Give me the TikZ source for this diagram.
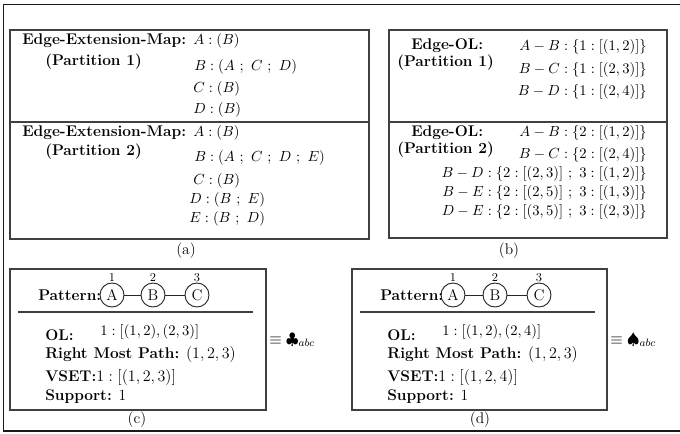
\documentclass[tikz,border=0pt]{standalone}
\begin{document}
\begin{tikzpicture}[x=0.75pt,y=-0.75pt,
  every node/.style={font=\fontsize{11.6}{14}\selectfont, inner sep=0pt},
  txt/.style={anchor=west},
  rtxt/.style={anchor=east},
  mth/.style={font=\fontsize{11.2}{13.5}\selectfont},
  boxline/.style={draw=black!75, line width=0.9pt},
  outerframe/.style={draw=black!90, line width=0.9pt},
  vtx/.style={circle, draw=black!85, line width=0.7pt, minimum size=18pt, inner sep=0pt},
  num/.style={font=\fontsize{9}{10}\selectfont, inner sep=0.3pt},
  link/.style={draw=black!85, line width=0.7pt},
  captxt/.style={anchor=center}
]
\useasboundingbox (0,0) rectangle (680,433);
% outer frame
\draw[outerframe] (680,4.5) -- (3.5,4.5) -- (3.5,431) -- (680,431);

% ---------- (a) ----------
\draw[boxline] (10,30) rectangle (369,239);
\draw[boxline] (10,122) -- (369,122);
\node[txt] (a1h) at (22,41) {\textbf{Edge-Extension-Map:}};
\node[txt] (a1p) at (45,62) {\textbf{(Partition 1)}};
\node[txt,mth] (a1A) at (193,41) {$A:(B)$};
\node[txt,mth] (a1B) at (194,67) {$B:(A\ ;\ C\ ;\ D)$};
\node[txt,mth] (a1C) at (193,89) {$C:(B)$};
\node[txt,mth] (a1D) at (193,110) {$D:(B)$};
\node[txt] (a2h) at (22,133) {\textbf{Edge-Extension-Map:}};
\node[txt] (a2p) at (45,152) {\textbf{(Partition 2)}};
\node[txt,mth] (a2A) at (193,133) {$A:(B)$};
\node[txt,mth] (a2B) at (194,158) {$B:(A\ ;\ C\ ;\ D\ ;\ E)$};
\node[txt,mth] (a2C) at (193,181) {$C:(B)$};
\node[txt,mth] (a2D) at (189,200) {$D:(B\ ;\ E)$};
\node[txt,mth] (a2E) at (189,219) {$E:(B\ ;\ D)$};
\node[captxt] (capa) at (186,251) {(a)};

% ---------- (b) ----------
\draw[boxline] (389,30) rectangle (667,238);
\draw[boxline] (389,122) -- (667,122);
\node[txt] (b1h) at (411,46) {\textbf{Edge-OL:}};
\node[txt] (b1p) at (397,63) {\textbf{(Partition 1)}};
\node[rtxt,mth] (b1AB) at (647,47) {$A-B:\{1:[(1,2)]\}$};
\node[rtxt,mth] (b1BC) at (647,70) {$B-C:\{1:[(2,3)]\}$};
\node[rtxt,mth] (b1BD) at (647,92) {$B-D:\{1:[(2,4)]\}$};
\node[txt] (b2h) at (411,133) {\textbf{Edge-OL:}};
\node[txt] (b2p) at (397,150) {\textbf{(Partition 2)}};
\node[rtxt,mth] (b2AB) at (647,133) {$A-B:\{2:[(1,2)]\}$};
\node[rtxt,mth] (b2BC) at (647,155) {$B-C:\{2:[(2,4)]\}$};
\node[rtxt,mth] (b2BD) at (647,174) {$B-D:\{2:[(2,3)]\ ;\ 3:[(1,2)]\}$};
\node[rtxt,mth] (b2BE) at (647,193) {$B-E:\{2:[(2,5)]\ ;\ 3:[(1,3)]\}$};
\node[rtxt,mth] (b2DE) at (647,212) {$D-E:\{2:[(3,5)]\ ;\ 3:[(2,3)]\}$};
\node[captxt] (capb) at (509,251) {(b)};

% ---------- (c) ----------
\draw[boxline] (10,269) rectangle (266,410);
\draw[boxline] (18,312) -- (253,312);
\node[txt] (cpat) at (38,295) {\textbf{Pattern:}};
\node[vtx, label={[num]above:1}] (cA) at (112,295) {A};
\node[vtx, label={[num]above:2}] (cB) at (153,295) {B};
\node[vtx, label={[num]above:3}] (cC) at (197,295) {C};
\draw[link] (cA) -- (cB);
\draw[link] (cB) -- (cC);
\node[txt] (col) at (45,335) {\textbf{OL:}};
\node[txt,mth] (colv) at (100,332) {$1:[(1,2),(2,3)]$};
\node[txt] (crmp) at (45,354) {\textbf{Right Most Path:} $(1,2,3)$};
\node[txt] (cvs) at (45,377) {\textbf{VSET:}$1:[(1,2,3)]$};
\node[txt] (csup) at (45,397) {\textbf{Support:} 1};
\node[captxt] (capc) at (137,420) {(c)};
\node[txt] (ceq) at (269,340) {$\equiv\clubsuit_{abc}$};

% ---------- (d) ----------
\draw[boxline] (352,269) rectangle (607,410);
\draw[boxline] (360,312) -- (595,312);
\node[txt] (dpat) at (380,295) {\textbf{Pattern:}};
\node[vtx, label={[num]above:1}] (dA) at (453,295) {A};
\node[vtx, label={[num]above:2}] (dB) at (495,295) {B};
\node[vtx, label={[num]above:3}] (dC) at (539,295) {C};
\draw[link] (dA) -- (dB);
\draw[link] (dB) -- (dC);
\node[txt] (dol) at (387,335) {\textbf{OL:}};
\node[txt,mth] (dolv) at (442,332) {$1:[(1,2),(2,4)]$};
\node[txt] (drmp) at (387,354) {\textbf{Right Most Path:} $(1,2,3)$};
\node[txt] (dvs) at (387,377) {\textbf{VSET:}$1:[(1,2,4)]$};
\node[txt] (dsup) at (387,397) {\textbf{Support:} 1};
\node[captxt] (capd) at (480,420) {(d)};
\node[txt] (deq) at (610,340) {$\equiv\spadesuit_{abc}$};
\end{tikzpicture}
\end{document}
